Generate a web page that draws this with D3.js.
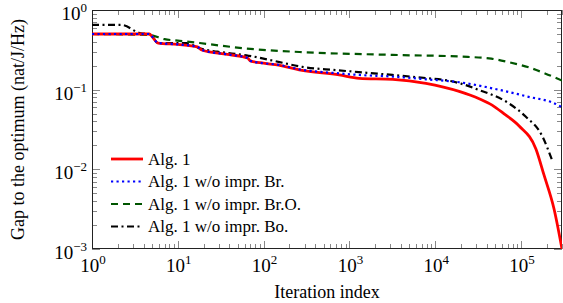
<!DOCTYPE html>
<html>
<head>
<meta charset="utf-8">
<script src="https://cdn.jsdelivr.net/npm/d3@7"></script>
<style>
  body { margin: 0; background: #fff; }
  svg { display: block; font-family: "Liberation Serif", "DejaVu Serif", serif; }
</style>
</head>
<body>
<svg id="chart"></svg>
<script>
// data (iteration, gap)
var algIt   = [1, 4.6, 5.9, 10, 17, 19, 40, 65, 70, 100, 150, 260, 760, 1300, 3200, 7800, 19000, 32500, 46000, 63000, 95000, 149000, 185000, 242000, 300000];
var algGap  = [0.50, 0.50, 0.385, 0.37, 0.345, 0.315, 0.275, 0.25, 0.23, 0.215, 0.203, 0.177, 0.153, 0.139, 0.135, 0.12, 0.095, 0.077, 0.064, 0.050, 0.035, 0.018, 0.0085, 0.0032, 0.001];

var brIt    = [1, 4.6, 5.9, 10, 17, 19, 40, 65, 70, 100, 150, 260, 760, 1300, 3200, 7800, 19000, 46000, 113000, 270000, 300000];
var brGap   = [0.50, 0.50, 0.385, 0.37, 0.345, 0.315, 0.275, 0.25, 0.23, 0.215, 0.205, 0.18, 0.16, 0.153, 0.146, 0.135, 0.124, 0.104, 0.083, 0.064, 0.06];

var broIt   = [1, 4.7, 7, 10.5, 18, 43, 83, 262, 3800, 20000, 45000, 71000, 124000, 190000, 300000];
var broGap  = [0.50, 0.485, 0.43, 0.41, 0.385, 0.343, 0.32, 0.297, 0.272, 0.26, 0.245, 0.222, 0.19, 0.16, 0.13];

var boIt    = [1, 2.2, 3.7, 4.7, 5.9, 12.7, 18, 29, 63, 153, 283, 700, 1700, 3170, 7800, 13000, 20000, 30000, 71000, 113000, 177000, 230000];
var boGap   = [0.65, 0.65, 0.51, 0.50, 0.385, 0.385, 0.33, 0.30, 0.27, 0.222, 0.193, 0.176, 0.162, 0.153, 0.14, 0.132, 0.119, 0.102, 0.068, 0.046, 0.026, 0.013];

var seriesNames = ["Alg. 1", "Alg. 1 w/o impr. Br.", "Alg. 1 w/o impr. Br.O.", "Alg. 1 w/o impr. Bo."];
var xTickExp = [0, 1, 2, 3, 4, 5];
var yTickExp = [0, -1, -2, -3];

var width = 563, height = 303,
  margin = {left: 92, right: 1, top: 10, bottom: 54},
  iw = width - margin.left - margin.right,
  ih = height - margin.top - margin.bottom;

var svg = d3.select("#chart").attr("width", width).attr("height", height);

var x = d3.scaleLog().domain([1, 3e5]).range([0, iw]);
var y = d3.scaleLog().domain([1e-3, 1]).range([ih, 0]);

var g = svg.append("g").attr("transform", "translate(" + margin.left + "," + margin.top + ")");

g.append("clipPath").attr("id", "clip")
  .append("rect").attr("width", iw).attr("height", ih);

// minor + major ticks on all 4 sides
function minorVals(lo, hi) {
  var out = [];
  for (var e = lo; e < hi; e++) {
    for (var m = 2; m <= 9; m++) out.push(m * Math.pow(10, e));
  }
  return out;
}
var xMinor = minorVals(0, 6).filter(function(v){ return v <= 3e5; });
var yMinor = minorVals(-3, 0);

var tickCol = "#7a7a7a";
var ticks = g.append("g").attr("stroke", tickCol).attr("stroke-width", 0.9);

function vTicks(vals, len) {
  vals.forEach(function(v){
    var px = Math.round(x(v)) + 0.5;
    ticks.append("line").attr("x1", px).attr("x2", px).attr("y1", ih).attr("y2", ih - len);
    ticks.append("line").attr("x1", px).attr("x2", px).attr("y1", 0).attr("y2", len);
  });
}
function hTicks(vals, len) {
  vals.forEach(function(v){
    var py = Math.round(y(v)) + 0.5;
    ticks.append("line").attr("y1", py).attr("y2", py).attr("x1", 0).attr("x2", len);
    ticks.append("line").attr("y1", py).attr("y2", py).attr("x1", iw).attr("x2", iw - len);
  });
}
vTicks(xMinor, 5);
vTicks(xTickExp.map(function(e){ return Math.pow(10, e); }), 8);
hTicks(yMinor, 5);
hTicks(yTickExp.map(function(e){ return Math.pow(10, e); }), 8);

// frame
g.append("rect")
  .attr("x", 0.5).attr("y", 0.5)
  .attr("width", iw - 1).attr("height", ih - 1)
  .attr("fill", "none").attr("stroke", "#222").attr("stroke-width", 1);

function powLabel(sel, e) {
  sel.append("tspan").text("10");
  sel.append("tspan")
    .attr("dy", -8)
    .style("font-size", "13px")
    .text(e < 0 ? "\u2212" + (-e) : String(e));
}

// x tick labels
xTickExp.forEach(function(e){
  var t = g.append("text")
    .attr("x", x(Math.pow(10, e)) + 1)
    .attr("y", ih + 23)
    .attr("text-anchor", "middle")
    .style("font-size", "19px");
  powLabel(t, e);
});

// y tick labels
yTickExp.forEach(function(e){
  var t = g.append("text")
    .attr("x", -5)
    .attr("y", y(Math.pow(10, e)) + 10)
    .attr("text-anchor", "end")
    .style("font-size", "19px");
  powLabel(t, e);
});

// axis titles
svg.append("text")
  .attr("x", margin.left + iw / 2).attr("y", 298)
  .attr("text-anchor", "middle")
  .style("font-size", "18px")
  .text("Iteration index");

svg.append("text")
  .attr("transform", "translate(24," + (margin.top + ih / 2) + ")rotate(-90)")
  .attr("text-anchor", "middle")
  .style("font-size", "18px")
  .text("Gap to the optimum (nat/J/Hz)");

// curves
var line = d3.line()
  .x(function(d){ return x(d[0]); })
  .y(function(d){ return y(d[1]); })
  .curve(d3.curveMonotoneX);

function zip(a, b) { return a.map(function(v, i){ return [v, b[i]]; }); }

var styles = [
  {data: zip(algIt, algGap), color: "#ff0000", w: 2.8, dash: null},
  {data: zip(brIt, brGap),   color: "#0000ff", w: 2.2, dash: "2.2 3.3"},
  {data: zip(broIt, broGap), color: "#005500", w: 2.2, dash: "7 5"},
  {data: zip(boIt, boGap),   color: "#000000", w: 2.2, dash: "7 3.5 2 3.5"}
];

var plot = g.append("g").attr("clip-path", "url(#clip)");
[3, 2, 0, 1].forEach(function(i){
  var s = styles[i];
  plot.append("path")
    .attr("d", line(s.data))
    .attr("fill", "none")
    .attr("stroke", s.color)
    .attr("stroke-width", s.w)
    .attr("stroke-dasharray", s.dash);
});

// legend
var leg = svg.append("g").attr("transform", "translate(111,159)");
styles.forEach(function(s, i){
  var row = leg.append("g").attr("transform", "translate(0," + (i * 22.5) + ")");
  row.append("line")
    .attr("x1", 0).attr("x2", 32).attr("y1", 0).attr("y2", 0)
    .attr("stroke", s.color).attr("stroke-width", s.w)
    .attr("stroke-dasharray", s.dash);
  row.append("text")
    .attr("x", 37).attr("y", 5.5)
    .style("font-size", "17px")
    .text(seriesNames[i]);
});
</script>
</body>
</html>
